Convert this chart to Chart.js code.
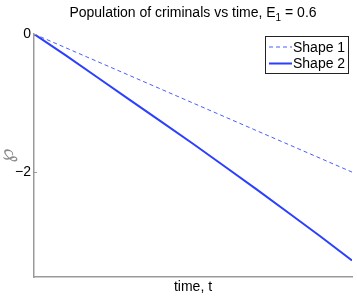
<!DOCTYPE html>
<html>
<head>
<meta charset="utf-8">
<script src="https://cdn.jsdelivr.net/npm/chart.js@4"></script>
<style>
  html, body { margin: 0; padding: 0; background: #fff; }
  #wrap { width: 357px; height: 296px; }
</style>
</head>
<body>
<div id="wrap"><canvas id="chart"></canvas></div>
<script>
// ── Data ────────────────────────────────────────────────────────────
const timeSteps = [0, 1, 2, 3, 4, 5, 6, 7, 8, 9, 10];
const shape1 = [0, -0.2, -0.4, -0.6, -0.8, -1.0, -1.2, -1.4, -1.6, -1.8, -2.0];
const shape2 = [0, -0.31, -0.63, -0.95, -1.27, -1.59, -1.92, -2.25, -2.59, -2.93, -3.28];
const seriesLabels = ["Shape 1", "Shape 2"];
const yTickValues = [0, -2];

const FONT = "'Liberation Sans', Arial, Helvetica, sans-serif";
const BLUE = "#2b3fff";
const AXIS = "#9a9a9a";

// ── Title, boxed legend and inward ticks (MATLAB look) ──────────────
const decorPlugin = {
    id: "decor",
    afterDraw(chart) {
        const { ctx, chartArea } = chart;
        ctx.save();

        // title with subscript
        const cx = (chartArea.left + chartArea.right) / 2;
        const partA = "Population of criminals vs time, E";
        const sub = "1";
        const partB = " = 0.6";
        ctx.fillStyle = "#000";
        ctx.textBaseline = "alphabetic";
        ctx.font = `14px ${FONT}`;
        const wA = ctx.measureText(partA).width;
        const wB = ctx.measureText(partB).width;
        ctx.font = `10px ${FONT}`;
        const wS = ctx.measureText(sub).width;
        let x = cx - (wA + wS + wB) / 2;
        ctx.font = `14px ${FONT}`;
        ctx.textAlign = "left";
        ctx.fillText(partA, x, 17);
        x += wA;
        ctx.font = `10px ${FONT}`;
        ctx.fillText(sub, x, 21);
        x += wS;
        ctx.font = `14px ${FONT}`;
        ctx.fillText(partB, x, 17);

        // inward y ticks
        const yScale = chart.scales.y;
        ctx.strokeStyle = AXIS;
        ctx.lineWidth = 1;
        yTickValues.forEach(v => {
            const py = Math.round(yScale.getPixelForValue(v)) + 0.5;
            ctx.beginPath();
            ctx.moveTo(chartArea.left, py);
            ctx.lineTo(chartArea.left + 3, py);
            ctx.stroke();
        });

        // legend box
        const bx = chartArea.right - 87, by = chartArea.top + 2, bw = 83, bh = 37;
        ctx.fillStyle = "#fff";
        ctx.fillRect(bx, by, bw, bh);
        ctx.strokeStyle = "#222";
        ctx.lineWidth = 1;
        ctx.strokeRect(bx + 0.5, by + 0.5, bw, bh);

        chart.data.datasets.forEach((ds, i) => {
            const ly = by + 11 + i * 16.5;
            ctx.strokeStyle = ds.borderColor;
            ctx.lineWidth = ds.borderWidth;
            ctx.setLineDash(ds.borderDash || []);
            ctx.beginPath();
            ctx.moveTo(bx + 4, ly);
            ctx.lineTo(bx + 27, ly);
            ctx.stroke();
            ctx.setLineDash([]);
            ctx.fillStyle = "#000";
            ctx.font = `14px ${FONT}`;
            ctx.textBaseline = "middle";
            ctx.fillText(ds.label, bx + 28, ly + 1);
        });

        ctx.restore();
    }
};

const chart = new Chart(document.getElementById("chart").getContext("2d"), {
    type: "line",
    data: {
        datasets: [
            {
                label: seriesLabels[0],
                data: timeSteps.map((t, i) => ({ x: t, y: shape1[i] })),
                borderColor: "#4a5cff",
                borderWidth: 1,
                borderDash: [4, 3],
                pointRadius: 0,
                tension: 0,
            },
            {
                label: seriesLabels[1],
                data: timeSteps.map((t, i) => ({ x: t, y: shape2[i] })),
                borderColor: BLUE,
                borderWidth: 2,
                pointRadius: 0,
                tension: 0,
            },
        ]
    },
    options: {
        responsive: true,
        maintainAspectRatio: false,
        animation: false,
        layout: { padding: { top: 34, right: 5, left: 0, bottom: 0 } },
        plugins: {
            legend: { display: false },
            title: { display: false },
            tooltip: { enabled: false },
        },
        scales: {
            x: {
                type: "linear",
                min: 0,
                max: 10,
                ticks: { display: false },
                grid: { display: false, drawTicks: false },
                border: { color: AXIS, width: 1.5 },
                title: {
                    display: true,
                    text: "time, t",
                    color: "#000",
                    font: { family: FONT, size: 14 },
                    padding: { top: 0, bottom: 0 },
                },
                afterFit: s => { s.height = 19; },
            },
            y: {
                min: -3.52,
                max: 0,
                afterBuildTicks: s => { s.ticks = yTickValues.map(v => ({ value: v })); },
                ticks: {
                    color: "#000",
                    font: { family: FONT, size: 14 },
                    padding: 3,
                    callback: v => (v < 0 ? "\u2212" + Math.abs(v) : String(v)),
                },
                grid: { display: false, drawTicks: false },
                border: { color: AXIS, width: 1.5 },
                title: {
                    display: true,
                    text: "\u2118",
                    color: "#8a8a8a",
                    font: { family: "'DejaVu Sans', sans-serif", size: 20, lineHeight: 0.8 },
                    padding: { top: 0, bottom: 0 },
                },
                afterFit: s => { s.width = 34; },
            },
        },
    },
    plugins: [decorPlugin],
});
</script>
</body>
</html>
